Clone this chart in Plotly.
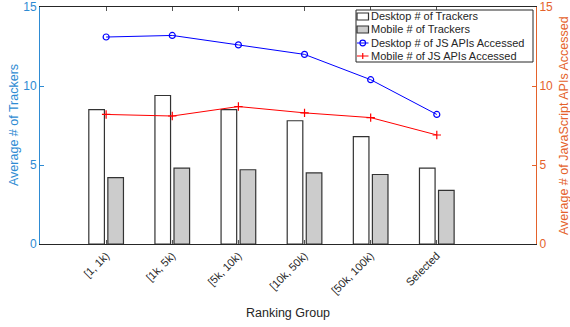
import plotly.graph_objects as go

groups = ["[1, 1k)", "[1k, 5k)", "[5k, 10k)", "[10k, 50k)", "[50k, 100k)", "Selected"]
desktop_trackers = [8.5, 9.4, 8.5, 7.8, 6.8, 4.8]
mobile_trackers = [4.2, 4.8, 4.7, 4.5, 4.4, 3.4]
desktop_js_apis = [13.1, 13.2, 12.6, 12.0, 10.4, 8.2]
mobile_js_apis = [8.2, 8.1, 8.7, 8.3, 8.0, 6.9]

series_names = [
    "Desktop # of Trackers",
    "Mobile # of Trackers",
    "Desktop # of JS APIs Accessed",
    "Mobile # of JS APIs Accessed",
]

xpos = list(range(1, len(groups) + 1))
LEFT_C = "#2E8BD3"
RIGHT_C = "#E4622B"
EDGE = "#333333"
FONT = "Liberation Sans, Arial, sans-serif"

W, H = 570, 327
ML, MR, MT, MB = 40, 34, 7, 83
PW, PH = W - ML - MR, H - MT - MB


def px(p):
    """Horizontal pixel -> paper coordinate."""
    return (p - ML) / PW


def py(p):
    """Vertical pixel (from top) -> paper coordinate."""
    return (H - MB - p) / PH


fig = go.Figure()
fig.add_trace(go.Bar(
    x=xpos, y=desktop_trackers, name=series_names[0],
    width=0.236, offset=-0.262,
    marker=dict(color="white", line=dict(color=EDGE, width=1.2)),
))
fig.add_trace(go.Bar(
    x=xpos, y=mobile_trackers, name=series_names[1],
    width=0.236, offset=0.026,
    marker=dict(color="#cccccc", line=dict(color=EDGE, width=1.2)),
))
fig.add_trace(go.Scatter(
    x=xpos, y=desktop_js_apis, name=series_names[2],
    yaxis="y2", mode="lines+markers",
    line=dict(color="#0000ff", width=1),
    marker=dict(symbol="circle-open", size=6, color="#0000ff", line=dict(width=1.2)),
))
fig.add_trace(go.Scatter(
    x=xpos, y=mobile_js_apis, name=series_names[3],
    yaxis="y2", mode="lines+markers",
    line=dict(color="#ff0000", width=1),
    marker=dict(symbol="cross-thin-open", size=6, color="#ff0000",
                line=dict(width=1.2, color="#ff0000")),
))

# Compact boxed legend in the top-right corner of the axes
shapes = []
annotations = []
box_l, box_r, box_t, box_b = 356, 533, 10, 62
shapes.append(dict(type="rect", xref="paper", yref="paper",
                   x0=px(box_l), x1=px(box_r), y0=py(box_b), y1=py(box_t),
                   fillcolor="white", line=dict(color="#262626", width=1), layer="above"))
row_y = [16.5, 29.5, 43, 56]
sym_l, sym_r, text_x = 357, 368.5, 368.5
for i, (name, yc) in enumerate(zip(series_names, row_y)):
    if i < 2:
        shapes.append(dict(type="rect", xref="paper", yref="paper",
                           x0=px(sym_l), x1=px(sym_r), y0=py(yc + 3.5), y1=py(yc - 3.5),
                           fillcolor="white" if i == 0 else "#cccccc",
                           line=dict(color=EDGE, width=1.2), layer="above"))
    else:
        col = "#0000ff" if i == 2 else "#ff0000"
        shapes.append(dict(type="line", xref="paper", yref="paper",
                           x0=px(sym_l), x1=px(sym_r), y0=py(yc), y1=py(yc),
                           line=dict(color=col, width=1), layer="above"))
        cx = (sym_l + sym_r) / 2
        if i == 2:
            shapes.append(dict(type="circle", xref="paper", yref="paper",
                               x0=px(cx - 2.8), x1=px(cx + 2.8), y0=py(yc + 2.8), y1=py(yc - 2.8),
                               line=dict(color=col, width=1.2), layer="above"))
        else:
            shapes.append(dict(type="line", xref="paper", yref="paper",
                               x0=px(cx), x1=px(cx), y0=py(yc + 3), y1=py(yc - 3),
                               line=dict(color=col, width=1.2), layer="above"))
    annotations.append(dict(text=name, xref="paper", yref="paper",
                            x=px(text_x), y=py(yc), xanchor="left", yanchor="middle",
                            showarrow=False, font=dict(size=11, color="#262626")))

# Vertical axis titles, placed beside the tick labels
annotations.append(dict(text="Average # of Trackers", xref="paper", yref="paper",
                        x=px(13.5), y=0.5, xanchor="center", yanchor="middle",
                        textangle=-90, showarrow=False,
                        font=dict(size=12.5, color=LEFT_C)))
annotations.append(dict(text="Average # of JavaScript APIs Accessed", xref="paper", yref="paper",
                        x=px(563.5), y=0.5, xanchor="center", yanchor="middle",
                        textangle=-90, showarrow=False,
                        font=dict(size=12.5, color=RIGHT_C)))

fig.update_layout(
    width=W, height=H,
    margin=dict(l=ML, r=MR, t=MT, b=MB),
    plot_bgcolor="white", paper_bgcolor="white",
    barmode="overlay",
    font=dict(family=FONT, size=11, color="#262626"),
    showlegend=False,
    shapes=shapes,
    annotations=annotations,
    xaxis=dict(
        range=[0, 7.5], tickmode="array", tickvals=xpos, ticktext=groups,
        tickangle=-45, ticks="inside", ticklen=4, tickcolor="#555555",
        showline=True, linecolor="#262626", linewidth=1, mirror="ticks",
        showgrid=False, zeroline=False, automargin=False,
        tickfont=dict(size=11, color="#262626"),
        title=dict(text="Ranking Group", font=dict(size=12.5, color="#262626"), standoff=12),
    ),
    yaxis=dict(
        range=[0, 15], tickvals=[0, 5, 10, 15], ticks="inside", ticklen=4,
        tickcolor=LEFT_C, showline=True, linecolor=LEFT_C, linewidth=1,
        showgrid=False, zeroline=False, automargin=False,
        tickfont=dict(size=12, color=LEFT_C),
    ),
    yaxis2=dict(
        range=[0, 15], tickvals=[0, 5, 10, 15], ticks="inside", ticklen=4,
        tickcolor=RIGHT_C, showline=True, linecolor=RIGHT_C, linewidth=1,
        overlaying="y", side="right", showgrid=False, zeroline=False, automargin=False,
        tickfont=dict(size=12, color=RIGHT_C),
    ),
)

fig.write_html("out.html")
